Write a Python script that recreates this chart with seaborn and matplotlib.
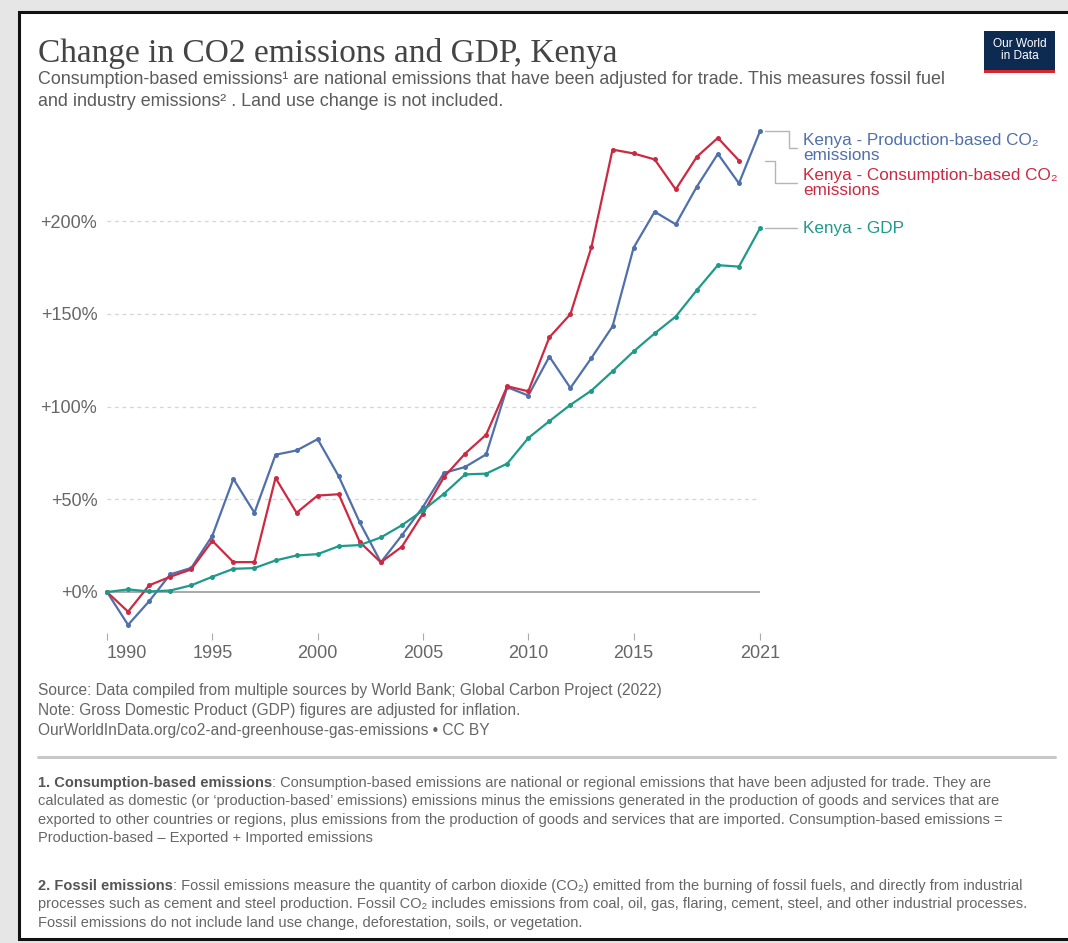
import numpy as np
import pandas as pd
import matplotlib
matplotlib.use('Agg')
import matplotlib.pyplot as plt
import seaborn as sns
from matplotlib.patches import Rectangle
from matplotlib.lines import Line2D

# data (percent change since 1990)
years = list(range(1990, 2022))
production = [0, -17.7, -5, 9.5, 13, 30.3, 61, 42.7, 74, 76.3, 82.4, 62.4, 37.5, 16,
              30.6, 45.9, 64.2, 67.4, 74.2, 110.4, 105.9, 126.9, 110, 126.2, 143.2,
              185.6, 205, 198.2, 218.5, 236.2, 220.3, 248.4]
consumption = [0, -10.6, 3.6, 8.2, 12.2, 27.6, 16.1, 16.1, 61.5, 42.7, 52, 52.7, 26.9, 16,
               24.4, 42.3, 62, 74.6, 84.8, 110.9, 108.2, 137.3, 149.8, 186, 238.5,
               236.4, 233.2, 217, 234.6, 244.8, 232.6, np.nan]
gdp = [0, 1.4, 0.3, 0.8, 3.6, 8.2, 12.5, 12.9, 17, 19.7, 20.4, 24.7, 25.3, 29.4,
       36, 44, 53, 63.4, 63.8, 69.2, 83, 92.1, 100.9, 108.6, 119, 129.7, 139.4,
       148.5, 162.7, 176.2, 175.4, 196.1]

series_names = ['Kenya - Production-based CO\u2082\nemissions',
                'Kenya - Consumption-based CO\u2082\nemissions',
                'Kenya - GDP']
colors = ['#5070ab', '#cc2a42', '#1f9a8a']
y_ticks = [0, 50, 100, 150, 200]
y_labels = ['+0%', '+50%', '+100%', '+150%', '+200%']
x_ticks = [1990, 1995, 2000, 2005, 2010, 2015, 2021]

df = pd.DataFrame({'year': years, 'prod': production, 'cons': consumption, 'gdp': gdp})

sns.set_style('white')
plt.rcParams['font.family'] = ['Liberation Sans', 'DejaVu Sans']

W, H = 1068, 943
fig = plt.figure(figsize=(W / 100, H / 100), dpi=100)
fig.patch.set_facecolor('#e6e6e6')

def fx(x):
    return x / W

def fy(y):
    return 1 - y / H

# white card with black frame
fig.patches.append(Rectangle((fx(19), fy(939)), fx(1080) - fx(19), fy(12) - fy(939),
                             transform=fig.transFigure, facecolor='white',
                             edgecolor='#111111', linewidth=2.2, zorder=-5))

# main axes
ylo, yhi = -22, 250
px_per = 1.855
top_px = 592 - yhi * px_per
bot_px = 592 - ylo * px_per
ax = fig.add_axes([fx(107), fy(bot_px), fx(760) - fx(107), (bot_px - top_px) / H])
ax.set_facecolor('none')
ax.set_zorder(3)

for col, c in zip(['prod', 'cons', 'gdp'], colors):
    sns.lineplot(data=df, x='year', y=col, ax=ax, color=c, linewidth=1.6,
                 marker='o', markersize=3.6, markeredgewidth=0, clip_on=False, zorder=3)

ax.set_xlim(1990, 2021)
ax.set_ylim(ylo, yhi)
ax.set_xlabel('')
ax.set_ylabel('')
for s in ax.spines.values():
    s.set_visible(False)

for t in y_ticks[1:]:
    ax.axhline(t, color='#d5d5d5', linewidth=0.9, linestyle=(0, (3, 3)), zorder=1)
ax.axhline(0, color='#9a9a9a', linewidth=1.2, zorder=2)

ax.set_yticks(y_ticks)
ax.set_yticklabels(y_labels)
ax.tick_params(axis='y', length=0, pad=7, labelsize=13, labelcolor='#666666')
ax.set_xticks(x_ticks)
ax.set_xticklabels([str(v) for v in x_ticks])
ax.tick_params(axis='x', length=5, width=0.8, color='#aaaaaa', direction='out', pad=4,
               labelsize=13, labelcolor='#666666')
ax.xaxis.set_ticks_position('bottom')
ax.get_xticklabels()[0].set_horizontalalignment('left')

# line-end labels with connectors
fig.canvas.draw()
to_px = lambda x, y: (ax.transData.transform((x, y))[0], H - ax.transData.transform((x, y))[1])
ends = [(2021, production[-1]), (2020, consumption[-2]), (2021, gdp[-1])]
label_y = [148, 183, 228]
label_x = 803
right_px = to_px(2021, 0)[0]
for (ex, ey), ly, c, name in zip(ends, label_y, colors, series_names):
    sx, sy = to_px(ex, ey)
    sx = right_px
    bend = 789 if ly == 148 else 775
    xs = [sx + 5, bend, bend, label_x - 6]
    ys = [sy, sy, ly, ly]
    fig.add_artist(Line2D([fx(v) for v in xs], [fy(v) for v in ys], color='#b5b5b5',
                          linewidth=1.0, transform=fig.transFigure))
    fig.text(fx(label_x), fy(ly), name, color=c, fontsize=12.3, va='center', ha='left',
             linespacing=0.95)

# title and subtitle
fig.text(fx(38), fy(62), 'Change in CO2 emissions and GDP, Kenya', fontsize=24,
         family=['Liberation Serif', 'DejaVu Serif'], color='#444444', va='baseline')
fig.text(fx(38), fy(79), 'Consumption-based emissions\u00b9 are national emissions that have been '
         'adjusted for trade. This measures fossil fuel', fontsize=12.9, color='#5b5b5b', va='center')
fig.text(fx(38), fy(101), 'and industry emissions\u00b2 . Land use change is not included.',
         fontsize=12.9, color='#5b5b5b', va='center')

# logo
fig.patches.append(Rectangle((fx(984), fy(73)), fx(71), 42 / H, transform=fig.transFigure,
                             facecolor='#0d2a50', edgecolor='none'))
fig.patches.append(Rectangle((fx(984), fy(73)), fx(71), 3.5 / H, transform=fig.transFigure,
                             facecolor='#d8262e', edgecolor='none'))
fig.text(fx(1019.5), fy(50), 'Our World\nin Data', color='white', fontsize=8.6, ha='center',
         va='center', linespacing=0.95)

# footer
foot = ['Source: Data compiled from multiple sources by World Bank; Global Carbon Project (2022)',
        'Note: Gross Domestic Product (GDP) figures are adjusted for inflation.',
        'OurWorldInData.org/co2-and-greenhouse-gas-emissions \u2022 CC BY']
for i, line in enumerate(foot):
    fig.text(fx(38), fy(690 + 20 * i), line, fontsize=11.2, color='#666666', va='center')

fig.add_artist(Line2D([fx(38), fx(1055)], [fy(757), fy(757)], color='#c8c8c8', linewidth=2.2,
                      transform=fig.transFigure))

renderer = fig.canvas.get_renderer()

def note(y0, head, lines):
    t = fig.text(fx(38), fy(y0), head, fontsize=10.5, color='#555555', weight='bold', va='center')
    w = t.get_window_extent(renderer).width
    fig.text(fx(38 + w), fy(y0), lines[0], fontsize=10.5, color='#666666', va='center')
    for i, ln in enumerate(lines[1:]):
        fig.text(fx(38), fy(y0 + 18.3 * (i + 1)), ln, fontsize=10.5, color='#666666', va='center')

note(783, '1. Consumption-based emissions',
     [': Consumption-based emissions are national or regional emissions that have been adjusted for trade. They are',
      "calculated as domestic (or \u2018production-based\u2019 emissions) emissions minus the emissions generated in the production of goods and services that are",
      'exported to other countries or regions, plus emissions from the production of goods and services that are imported. Consumption-based emissions =',
      'Production-based \u2013 Exported + Imported emissions'])
note(886, '2. Fossil emissions',
     [': Fossil emissions measure the quantity of carbon dioxide (CO\u2082) emitted from the burning of fossil fuels, and directly from industrial',
      'processes such as cement and steel production. Fossil CO\u2082 includes emissions from coal, oil, gas, flaring, cement, steel, and other industrial processes.',
      'Fossil emissions do not include land use change, deforestation, soils, or vegetation.'])

fig.savefig('out.png', dpi=100, facecolor=fig.get_facecolor())
